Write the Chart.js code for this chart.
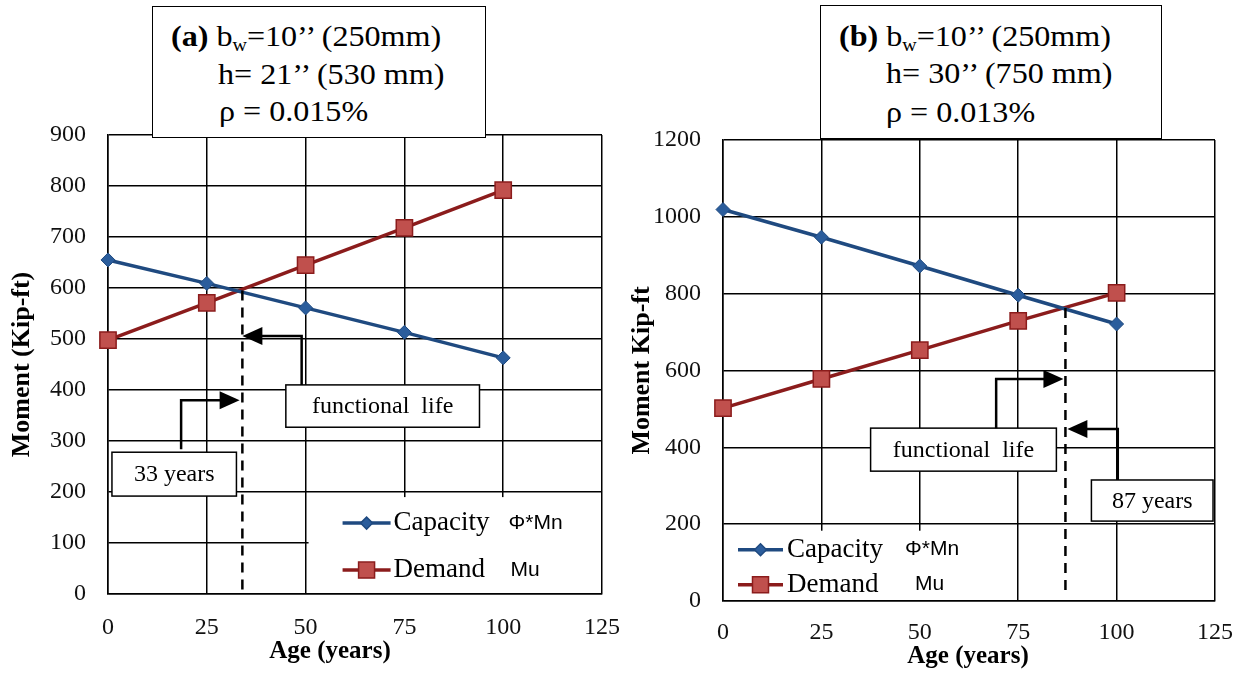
<!DOCTYPE html>
<html>
<head>
<meta charset="utf-8">
<script src="https://cdn.jsdelivr.net/npm/chart.js@4.4.1/dist/chart.umd.min.js"></script>
<style>
  html, body { margin: 0; padding: 0; background: #fff; }
  body { width: 1254px; height: 673px; position: relative; overflow: hidden; font-family: "Liberation Serif", "Times New Roman", serif; }
  .panel { position: absolute; top: 0; width: 627px; height: 673px; }
  .titlebox { position: absolute; background: #fff; border: 1.5px solid #000; box-sizing: border-box; color: #000; font-size: 30px; }
  .titlebox div { position: absolute; white-space: nowrap; line-height: 34px; transform: scaleX(1.07); transform-origin: left center; }
  .titlebox sub { font-size: 62%; vertical-align: -5px; line-height: 0; }
</style>
</head>
<body>
<div class="panel" style="left:0"><canvas id="chartA" width="627" height="673"></canvas></div>
<div class="panel" style="left:627px"><canvas id="chartB" width="627" height="673"></canvas></div>

<div class="titlebox" style="left:152px; top:6px; width:334px; height:132px;">
  <div style="left:18px; top:12px;"><b>(a)</b> b<sub>w</sub>=10’’ (250mm)</div>
  <div style="left:65px; top:50px;">h= 21’’ (530 mm)</div>
  <div style="left:66px; top:87px;">ρ = 0.015%</div>
</div>
<div class="titlebox" style="left:820px; top:5px; width:342px; height:134px;">
  <div style="left:18px; top:13px;"><b>(b)</b> b<sub>w</sub>=10’’ (250mm)</div>
  <div style="left:65px; top:50px;">h= 30’’ (750 mm)</div>
  <div style="left:65px; top:89px;">ρ = 0.013%</div>
</div>

<script>
// ages on the x axis
const ages = [0, 25, 50, 75, 100];
const xTickValues = [0, 25, 50, 75, 100, 125];

// (a) bw=10", h=21"
const capacityA = [655, 609, 561, 513, 463];
const demandA = [498, 571, 645, 718, 792];
const yTickValuesA = [0, 100, 200, 300, 400, 500, 600, 700, 800, 900];
const lifeA = 34;

// (b) bw=10", h=30"
const capacityB = [1019, 947, 872, 796, 721];
const demandB = [502, 578, 653, 729, 802];
const yTickValuesB = [0, 200, 400, 600, 800, 1000, 1200];
const lifeB = 87;

const BLUE_LINE = '#1f4a80';
const BLUE_PT = '#2b5d9c';
const RED_LINE = '#8b1c1c';
const RED_PT = '#c0504d';
const SERIF = '"Liberation Serif", "Times New Roman", serif';
const SANS = '"Liberation Sans", Arial, sans-serif';

function drawMarker(ctx, kind, x, y) {
    ctx.save();
    ctx.beginPath();
    if (kind === 'diamond') {
        const r = 6;
        ctx.moveTo(x - r, y); ctx.lineTo(x, y - r); ctx.lineTo(x + r, y); ctx.lineTo(x, y + r);
        ctx.closePath();
        ctx.fillStyle = BLUE_PT; ctx.strokeStyle = BLUE_LINE;
    } else {
        const s = 8;
        ctx.rect(x - s, y - s, 2 * s, 2 * s);
        ctx.fillStyle = RED_PT; ctx.strokeStyle = RED_LINE;
    }
    ctx.lineWidth = 1.5;
    ctx.fill(); ctx.stroke();
    ctx.restore();
}

// dashed life line, callout boxes with arrows, legend box and x title
const overlay = {
    id: 'overlay',
    afterDraw(chart, args, o) {
        const ctx = chart.ctx;
        const xs = chart.scales.x, ys = chart.scales.y;
        const px = v => xs.getPixelForValue(v);
        const py = v => ys.getPixelForValue(v);
        ctx.save();

        // functional life line
        ctx.strokeStyle = '#000';
        ctx.lineWidth = 2.5;
        ctx.setLineDash([10, 7]);
        ctx.beginPath();
        ctx.moveTo(px(o.life), py(o.lifeTop));
        ctx.lineTo(px(o.life), py(0) - 4);
        ctx.stroke();
        ctx.setLineDash([]);

        // callouts
        o.notes.forEach(n => {
            const l = px(n.x0), r = px(n.x1), t = py(n.y1), b = py(n.y0);
            ctx.fillStyle = '#fff';
            ctx.fillRect(l, t, r - l, b - t);
            ctx.strokeStyle = '#000';
            ctx.lineWidth = 1.5;
            ctx.strokeRect(l, t, r - l, b - t);
            ctx.fillStyle = '#000';
            ctx.font = '24px ' + SERIF;
            ctx.textAlign = 'center';
            ctx.textBaseline = 'middle';
            ctx.fillText(n.text, (l + r) / 2, (t + b) / 2 + 1);

            const a = n.arrow;
            const ax = px(a.x), ay = py(a.y), tip = px(a.tip);
            const dir = tip > ax ? 1 : -1;
            ctx.lineWidth = 2.5;
            ctx.beginPath();
            ctx.moveTo(ax, py(a.from));
            ctx.lineTo(ax, ay);
            ctx.lineTo(tip - dir * 16, ay);
            ctx.stroke();
            ctx.beginPath();
            ctx.moveTo(tip, ay);
            ctx.lineTo(tip - dir * 20, ay - 9);
            ctx.lineTo(tip - dir * 20, ay + 9);
            ctx.closePath();
            ctx.fill();
        });

        // legend inside plot
        const lg = o.legend;
        const ll = px(lg.x0), lr = px(lg.x1), lt = py(lg.y1), lb = py(0);
        ctx.fillStyle = '#fff';
        ctx.fillRect(ll + 1, lt, lr - ll - 2, lb - lt - 1);
        lg.items.forEach((it, i) => {
            const y = lt + lg.rows[i];
            ctx.strokeStyle = it.color;
            ctx.lineWidth = 3.5;
            ctx.beginPath();
            ctx.moveTo(ll + lg.lineFrom, y);
            ctx.lineTo(ll + lg.lineTo, y);
            ctx.stroke();
            drawMarker(ctx, it.marker, ll + (lg.lineFrom + lg.lineTo) / 2, y);
            ctx.fillStyle = '#000';
            ctx.textAlign = 'left';
            ctx.textBaseline = 'middle';
            ctx.font = '27px ' + SERIF;
            ctx.fillText(it.label, ll + lg.textAt, y);
            ctx.font = '21px ' + SANS;
            ctx.fillText(it.symbol, ll + lg.symbolAt[i], y);
        });

        // x axis title
        ctx.fillStyle = '#000';
        ctx.font = 'bold 25px ' + SERIF;
        ctx.textAlign = 'center';
        ctx.textBaseline = 'middle';
        ctx.fillText('Age (years)', o.xTitle.x, o.xTitle.y);
        ctx.restore();
    }
};

function makeChart(id, p) {
    const series = (vals) => ages.map((a, i) => ({ x: a, y: vals[i] }));
    return new Chart(document.getElementById(id), {
        type: 'line',
        data: {
            datasets: [{
                label: 'Capacity',
                data: series(p.capacity),
                borderColor: BLUE_LINE,
                borderWidth: 3.5,
                pointStyle: 'rectRot',
                pointRadius: 7,
                pointBackgroundColor: BLUE_PT,
                pointBorderColor: BLUE_LINE,
                pointBorderWidth: 1,
                tension: 0,
                clip: false
            }, {
                label: 'Demand',
                data: series(p.demand),
                borderColor: RED_LINE,
                borderWidth: 3.5,
                pointStyle: 'rect',
                pointRadius: 11.5,
                pointBackgroundColor: RED_PT,
                pointBorderColor: RED_LINE,
                pointBorderWidth: 1.5,
                tension: 0,
                clip: false
            }]
        },
        options: {
            responsive: false,
            animation: false,
            events: [],
            layout: { padding: { left: 0, top: p.top, right: p.right, bottom: 0 } },
            plugins: {
                legend: { display: false },
                tooltip: { enabled: false },
                overlay: p.overlay
            },
            scales: {
                x: {
                    type: 'linear',
                    min: 0,
                    max: 125,
                    afterBuildTicks: s => { s.ticks = xTickValues.map(v => ({ value: v })); },
                    afterFit: s => { s.height = p.xHeight; s.paddingLeft = 0; s.paddingRight = 0; },
                    ticks: { color: '#111', font: { family: SERIF, size: 24 }, padding: p.xPad, maxRotation: 0, autoSkip: false,
                             callback: v => String(v) },
                    grid: { color: '#000', lineWidth: 1.5, drawTicks: false },
                    border: { color: '#000', width: 1.5 }
                },
                y: {
                    min: 0,
                    max: p.yMax,
                    afterBuildTicks: s => { s.ticks = p.yTicks.map(v => ({ value: v })); },
                    afterFit: s => { s.width = p.yWidth; s.paddingTop = 0; s.paddingBottom = 0; },
                    ticks: { color: '#111', font: { family: SERIF, size: 24 }, padding: 22, callback: v => String(v) },
                    grid: { color: '#000', lineWidth: 1.5, drawTicks: false },
                    border: { color: '#000', width: 1.5 },
                    title: {
                        display: true,
                        text: p.yTitle,
                        color: '#000',
                        font: { family: SERIF, size: 26, weight: 'bold' },
                        padding: { top: p.yTitlePad, bottom: 0 }
                    }
                }
            }
        },
        plugins: [overlay]
    });
}

makeChart('chartA', {
    capacity: capacityA,
    demand: demandA,
    yMax: 900,
    yTicks: yTickValuesA,
    yTitle: 'Moment (Kip-ft)',
    yTitlePad: 7,
    top: 135,
    right: 25,
    yWidth: 108,
    xHeight: 79,
    xPad: 19,
    overlay: {
        life: lifeA,
        lifeTop: 595,
        xTitle: { x: 330, y: 652 },
        notes: [
            { text: 'functional  life', x0: 45, x1: 94, y0: 327, y1: 410,
              arrow: { x: 49, from: 410, y: 506, tip: lifeA } },
            { text: '33 years', x0: 1, x1: 32.5, y0: 192, y1: 278,
              arrow: { x: 18.5, from: 284, y: 380, tip: 33.3 } }
        ],
        legend: {
            x0: 50.5, x1: 125, y1: 190,
            lineFrom: 35, lineTo: 83, textAt: 86,
            rows: [26, 73],
            symbolAt: [201, 203],
            items: [
                { label: 'Capacity', symbol: 'Φ*Mn', color: BLUE_LINE, marker: 'diamond' },
                { label: 'Demand', symbol: 'Mu', color: RED_LINE, marker: 'square' }
            ]
        }
    }
});

makeChart('chartB', {
    capacity: capacityB,
    demand: demandB,
    yMax: 1200,
    yTicks: yTickValuesB,
    yTitle: 'Moment Kip-ft',
    yTitlePad: 0,
    top: 140,
    right: 39,
    yWidth: 96,
    xHeight: 72,
    xPad: 17,
    overlay: {
        life: lifeB,
        lifeTop: 763,
        xTitle: { x: 341, y: 657 },
        notes: [
            { text: 'functional  life', x0: 37.5, x1: 84.7, y0: 338, y1: 450,
              arrow: { x: 69.4, from: 450, y: 578, tip: 86.5 } },
            { text: '87 years', x0: 93.6, x1: 124.5, y0: 208, y1: 315,
              arrow: { x: 100.3, from: 315, y: 448, tip: 87.5 } }
        ],
        legend: {
            x0: 0, x1: 73.5, y1: 183,
            lineFrom: 15, lineTo: 60, textAt: 64,
            rows: [19, 54],
            symbolAt: [182, 192],
            items: [
                { label: 'Capacity', symbol: 'Φ*Mn', color: BLUE_LINE, marker: 'diamond' },
                { label: 'Demand', symbol: 'Mu', color: RED_LINE, marker: 'square' }
            ]
        }
    }
});
</script>
</body>
</html>
